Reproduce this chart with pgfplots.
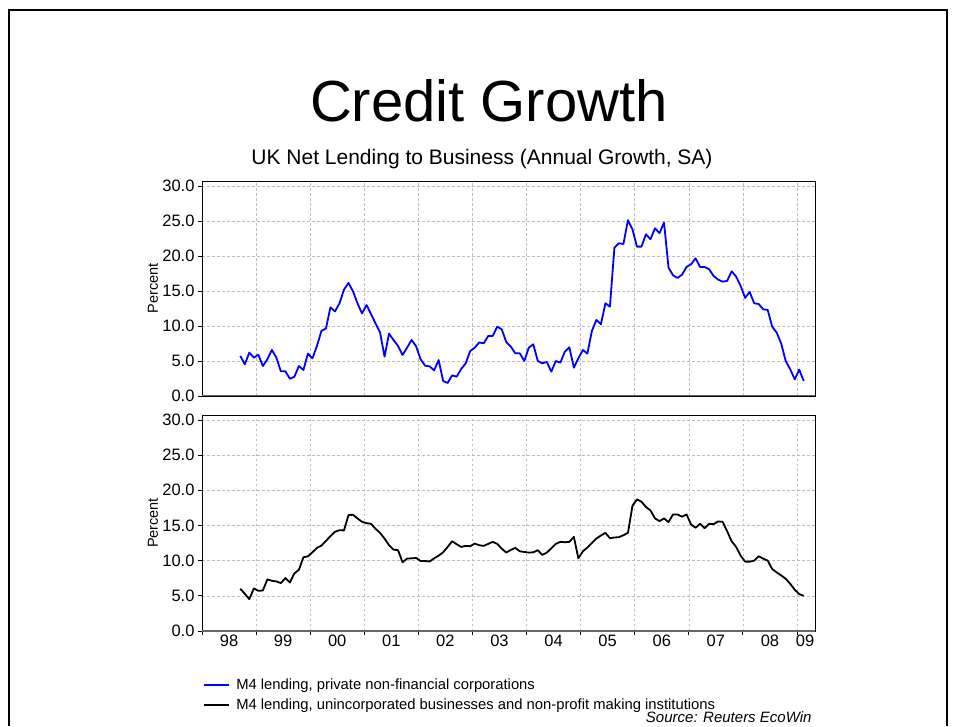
\documentclass[border=0pt]{standalone}
\usepackage{fontspec}
\setmainfont{Liberation Sans}
\usepackage{pgfplots}
\pgfplotsset{compat=1.18}
\usepackage{pgfplotstable}

% x = months since start of Jan 1998 (mid-month points)
\pgfplotstableread{
x top bot
8.5 5.72 6.00
9.5 4.52 5.29
10.5 6.20 4.52
11.5 5.48 6.05
12.5 5.90 5.71
13.5 4.28 5.76
14.5 5.24 7.33
15.5 6.58 7.14
16.5 5.48 7.05
17.5 3.52 6.81
18.5 3.52 7.52
19.5 2.46 6.90
20.5 2.75 8.19
21.5 4.28 8.71
22.5 3.71 10.48
23.5 6.05 10.62
24.5 5.38 11.19
25.5 7.15 11.81
26.5 9.30 12.14
27.5 9.64 12.81
28.5 12.66 13.48
29.5 12.08 14.10
30.5 13.23 14.33
31.5 15.19 14.29
32.5 16.15 16.48
33.5 14.95 16.52
34.5 13.23 16.00
35.5 11.79 15.52
36.5 12.99 15.33
37.5 11.70 15.24
38.5 10.36 14.52
39.5 9.07 13.95
40.5 5.62 13.14
41.5 8.92 12.19
42.5 7.97 11.57
43.5 7.15 11.48
44.5 5.86 9.76
45.5 6.91 10.29
46.5 8.01 10.33
47.5 7.10 10.38
48.5 5.24 9.95
49.5 4.33 9.95
50.5 4.23 9.88
51.5 3.66 10.33
52.5 5.14 10.71
53.5 2.14 11.19
54.5 1.86 11.95
55.5 2.95 12.76
56.5 2.76 12.33
57.5 3.85 11.95
58.5 4.67 12.10
59.5 6.42 12.05
60.5 6.90 12.43
61.5 7.65 12.19
62.5 7.52 12.10
63.5 8.57 12.38
64.5 8.57 12.67
65.5 9.90 12.38
66.5 9.52 11.71
67.5 7.71 11.14
68.5 7.05 11.52
69.5 6.10 11.81
70.5 6.10 11.33
71.5 5.00 11.24
72.5 6.90 11.14
73.5 7.38 11.19
74.5 5.00 11.48
75.5 4.67 10.81
76.5 4.86 11.14
77.5 3.48 11.76
78.5 5.00 12.38
79.5 4.76 12.67
80.5 6.33 12.62
81.5 6.95 12.67
82.5 4.05 13.38
83.5 5.38 10.33
84.5 6.57 11.33
85.5 6.05 11.86
86.5 9.29 12.52
87.5 10.86 13.14
88.5 10.24 13.57
89.5 13.24 13.95
90.5 12.76 13.19
91.5 21.19 13.29
92.5 21.81 13.33
93.5 21.71 13.62
94.5 25.10 13.95
95.5 23.80 17.80
96.5 21.33 18.70
97.5 21.33 18.38
98.5 23.10 17.62
99.5 22.38 17.14
100.5 23.95 16.00
101.5 23.24 15.62
102.5 24.76 16.00
103.5 18.33 15.48
104.5 17.24 16.57
105.5 16.86 16.57
106.5 17.33 16.24
107.5 18.43 16.57
108.5 18.81 15.14
109.5 19.67 14.67
110.5 18.43 15.24
111.5 18.43 14.62
112.5 18.10 15.24
113.5 17.14 15.19
114.5 16.62 15.57
115.5 16.33 15.52
116.5 16.43 14.19
117.5 17.81 12.76
118.5 17.05 11.95
119.5 15.71 10.71
120.5 14.00 9.86
121.5 14.86 9.86
122.5 13.24 10.00
123.5 13.14 10.62
124.5 12.38 10.29
125.5 12.29 10.00
126.5 9.90 8.81
127.5 9.05 8.33
128.5 7.48 7.90
129.5 5.00 7.43
130.5 3.81 6.71
131.5 2.38 5.86
132.5 3.76 5.24
133.5 2.14 5.00
}\credit

\pgfplotsset{
  panel/.style={
    scale only axis,
    width=613pt,
    xmin=0, xmax=136,
    ymin=0, ymax=30.7,
    ytick={0,5,10,15,20,25,30},
    yticklabels={0.0,5.0,10.0,15.0,20.0,25.0,30.0},
    xtick={0,12,24,36,48,60,72,84,96,108,120,132},
    ytick pos=left,
    xtick pos=bottom,
    tick align=outside,
    major tick length=4pt,
    grid=major,
    major grid style={black!26, line width=0.6pt, dash pattern=on 2.5pt off 2.5pt},
    axis line style={black, line width=0.8pt},
    tick style={black, line width=0.8pt},
    y tick label style={font=\fontsize{16.5}{17}\selectfont},
    x tick label style={font=\fontsize{16.5}{17}\selectfont},
    ylabel={Percent},
    ylabel style={font=\fontsize{14.5}{15}\selectfont, at={(axis description cs:-0.0799,0.5)}, anchor=center},
    /pgf/number format/assume math mode=true,
  }
}

\begin{document}
\begin{tikzpicture}
\path[use as bounding box] (0pt,0pt) rectangle (957pt,726pt);
\draw[line width=1.6pt] (9pt,0pt) -- (9pt,716pt) -- (947pt,716pt) -- (947pt,0pt);
\node[font=\fontsize{58}{60}\selectfont, anchor=base] at (489pt,604pt) {Credit Growth};
\node[font=\fontsize{21}{22}\selectfont, anchor=base] at (482pt,561pt) {UK Net Lending to Business (Annual Growth, SA)};

\begin{axis}[panel,
  at={(202pt,330pt)}, anchor=south west,
  height=215pt,
  xticklabels={},
  xtick style={draw=none},
]
\addplot[blue, line width=1.8pt, line join=round] table[x=x, y=top] {\credit};
\draw[black!60, line width=1.8pt] (rel axis cs:0,0) -- (rel axis cs:1,0);
\end{axis}

\begin{axis}[panel,
  at={(202pt,95pt)}, anchor=south west,
  height=216pt,
  xticklabels={},
  extra x ticks={6,18,30,42,54,66,78,90,102,114,126,133.8},
  extra x tick labels={98,99,00,01,02,03,04,05,06,07,08,09},
  extra x tick style={major tick length=0pt, grid=none},
  legend style={at={(axis description cs:0,0)}, anchor=north west,
    xshift=1pt, yshift=-46pt, draw=none, fill=none,
    font=\fontsize{14.8}{15}\selectfont, row sep=3pt,
    inner xsep=0pt, inner ysep=0pt},
  legend cell align=left,
  legend image post style={xscale=1.47, line width=2pt},
]
\addlegendimage{line legend, blue, line width=2pt}
\addlegendentry{\hspace{4pt}M4 lending, private non-financial corporations}
\addplot[black, line width=1.8pt, line join=round] table[x=x, y=bot] {\credit};
\addlegendentry{\hspace{4pt}M4 lending, unincorporated businesses and non-profit making institutions}
\draw[black!60, line width=1.8pt] (rel axis cs:0,0) -- (rel axis cs:1,0);
\end{axis}
\node[anchor=base east, font=\fontsize{15}{15}\itshape\selectfont] at (815pt,4pt) {Source: Reuters EcoWin};
\end{tikzpicture}
\end{document}
